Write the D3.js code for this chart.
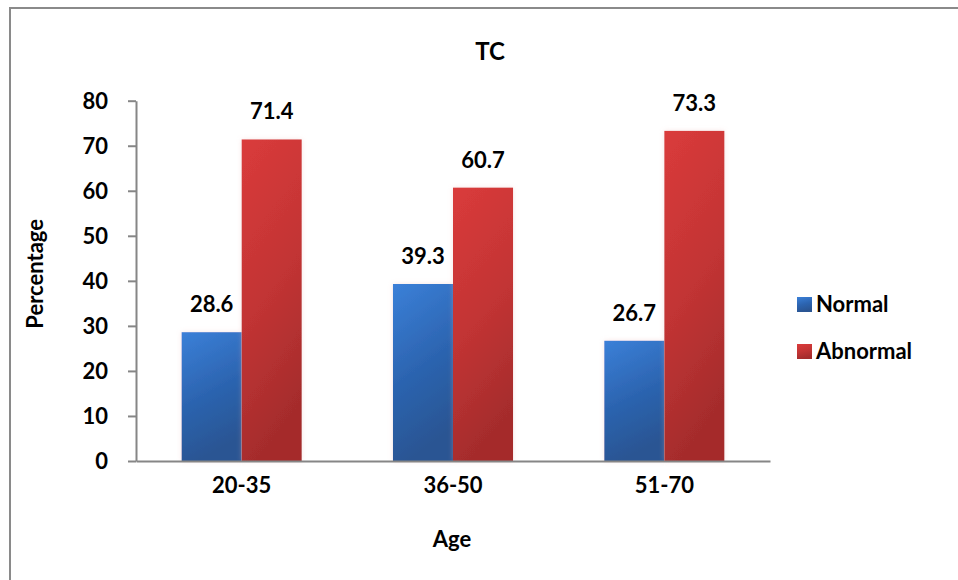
<!DOCTYPE html>
<html>
<head>
<meta charset="utf-8">
<script src="https://cdn.jsdelivr.net/npm/d3@7"></script>
<style>
  html, body { margin: 0; padding: 0; background: #fff; }
  svg { display: block; }
  text { font-family: Lato, "Open Sans", sans-serif; font-weight: 700; fill: #000; }
</style>
</head>
<body>
<svg id="chart" width="958" height="580"></svg>
<script>
// Age groups and the share of each TC result within them
const categories = ["20-35", "36-50", "51-70"];
const seriesNames = ["Normal", "Abnormal"];
const normalValues = [28.6, 39.3, 26.7];
const abnormalValues = [71.4, 60.7, 73.3];
const yTicks = [0, 10, 20, 30, 40, 50, 60, 70, 80];

const svg = d3.select("#chart");
const W = 958, H = 580;
const FONT = "Lato, 'Open Sans', sans-serif";
const FS = 22;

// Outer frame (only top and left edges fall inside the view)
svg.append("rect")
  .attr("x", 10).attr("y", 8)
  .attr("width", W + 20).attr("height", H + 20)
  .attr("fill", "#fff")
  .attr("stroke", "#8a8a8a").attr("stroke-width", 2);

const defs = svg.append("defs");
const grads = {
  Normal: ["#3b80d8", "#2c64b0", "#2a5593"],
  Abnormal: ["#da3b3b", "#c23434", "#a52c2c"]
};
Object.entries(grads).forEach(([k, c]) => {
  const g = defs.append("linearGradient").attr("id", "g-" + k)
    .attr("x1", 0).attr("y1", 0).attr("x2", 0.25).attr("y2", 1);
  g.append("stop").attr("offset", "0%").attr("stop-color", c[0]);
  g.append("stop").attr("offset", "55%").attr("stop-color", c[1]);
  g.append("stop").attr("offset", "100%").attr("stop-color", c[2]);
});
const glow = defs.append("filter").attr("id", "soft")
  .attr("x", "-20%").attr("y", "-10%").attr("width", "140%").attr("height", "120%");
glow.append("feDropShadow").attr("dx", 0).attr("dy", 0)
  .attr("stdDeviation", 2.5).attr("flood-color", "#e8b0b0").attr("flood-opacity", 0.35);

const x0 = 136, x1end = 770, yTop = 100.7, yBottom = 461;

const x = d3.scaleBand().domain(categories).range([x0, x1end]).padding(0);
const xs = d3.scaleBand().domain(seriesNames).range([0, x.bandwidth()])
  .paddingInner(0).paddingOuter(0.76);
const y = d3.scaleLinear().domain([0, 80]).range([yBottom, yTop]);

const data = categories.map((c, i) => ({
  cat: c,
  vals: [
    { s: "Normal", v: normalValues[i] },
    { s: "Abnormal", v: abnormalValues[i] }
  ]
}));

// Bars
const groups = svg.append("g").selectAll("g").data(data).join("g")
  .attr("transform", d => `translate(${x(d.cat)},0)`);

groups.selectAll("rect").data(d => d.vals).join("rect")
  .attr("x", d => xs(d.s))
  .attr("y", d => y(d.v))
  .attr("width", xs.bandwidth())
  .attr("height", d => y(0) - y(d.v))
  .attr("fill", d => `url(#g-${d.s})`)
  .attr("filter", "url(#soft)");

// Value labels
groups.selectAll("text.val").data(d => d.vals).join("text")
  .attr("class", "val")
  .attr("x", d => xs(d.s) + xs.bandwidth() / 2)
  .attr("y", d => y(d.v) - 20)
  .attr("text-anchor", "middle")
  .attr("font-size", FS)
  .text(d => d.v.toFixed(1));

// Y axis
const yAxis = d3.axisLeft(y).tickValues(yTicks).tickSize(8).tickPadding(20).tickSizeOuter(0);
const yg = svg.append("g").attr("transform", `translate(${x0},0)`).call(yAxis);
yg.select(".domain").attr("stroke", "#868686").attr("stroke-width", 2);
yg.selectAll(".tick line").attr("stroke", "#868686").attr("stroke-width", 2);
yg.selectAll(".tick text").attr("font-size", FS).attr("fill", "#000")
  .style("font-family", FONT).style("font-weight", 700)
  .attr("dy", "0.35em");

// X axis
const xAxis = d3.axisBottom(x).tickSize(0).tickPadding(16).tickSizeOuter(0);
const xg = svg.append("g").attr("transform", `translate(0,${yBottom})`).call(xAxis);
xg.select(".domain").attr("stroke", "#868686").attr("stroke-width", 2);
xg.selectAll(".tick text").attr("font-size", FS).attr("fill", "#000")
  .style("font-family", FONT).style("font-weight", 700);

// Titles
svg.append("text").attr("x", 490).attr("y", 60).attr("text-anchor", "middle")
  .attr("font-size", 24).text("TC");
svg.append("text").attr("x", 452).attr("y", 547).attr("text-anchor", "middle")
  .attr("font-size", FS).text("Age");
svg.append("text")
  .attr("transform", `translate(43,${(yTop + yBottom) / 2 - 7}) rotate(-90)`)
  .attr("text-anchor", "middle").attr("font-size", FS).text("Percentage");

// Legend
const legend = svg.append("g").selectAll("g").data(seriesNames).join("g")
  .attr("transform", (d, i) => `translate(797,${297 + i * 47})`);
legend.append("rect").attr("width", 15).attr("height", 15)
  .attr("fill", d => `url(#g-${d})`);
legend.append("text").attr("x", 19).attr("y", 15).attr("font-size", FS).text(d => d);
</script>
</body>
</html>
